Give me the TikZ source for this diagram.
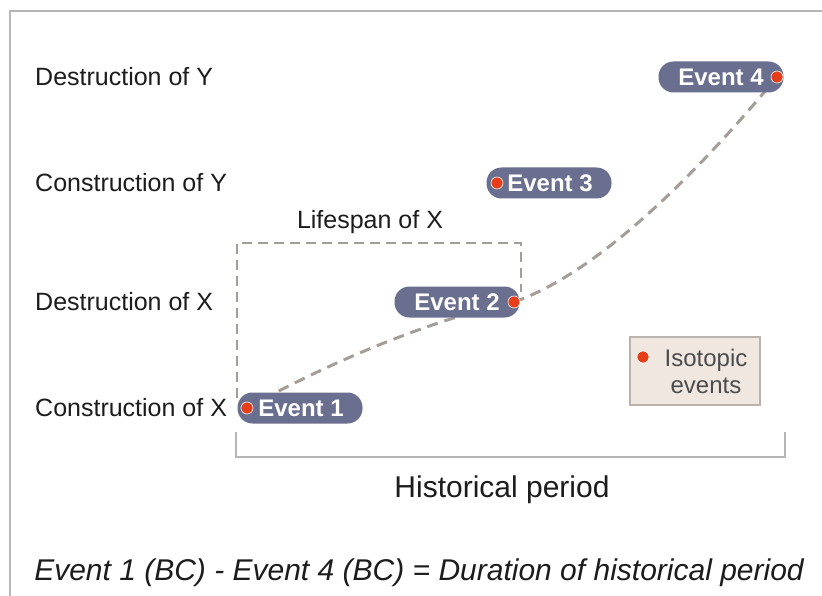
\documentclass[tikz,border=0pt]{standalone}
\usepackage{fontspec}
\setmainfont{Liberation Sans}
\usepackage{tikz}
\usetikzlibrary{shapes,positioning,calc}
\definecolor{pillcol}{RGB}{106,111,143}
\definecolor{dotcol}{RGB}{230,62,24}
\definecolor{dashcol}{RGB}{163,158,152}
\definecolor{legendfill}{RGB}{240,231,225}
\definecolor{legendline}{RGB}{186,178,172}
\definecolor{framecol}{RGB}{182,182,182}
\definecolor{textcol}{RGB}{28,28,28}
\tikzstyle{eventpill} = [rectangle, rounded corners=15pt, minimum width=125pt, minimum height=31pt, inner sep=0pt, fill=pillcol, text=white, font=\fontsize{24}{28}\selectfont\bfseries]
\tikzstyle{rowlabel} = [anchor=west, inner sep=0pt, text=textcol, font=\fontsize{25}{30}\selectfont]
\tikzstyle{isodot} = [circle, fill=dotcol, draw=white, line width=0.6pt, minimum size=12pt, inner sep=0pt]
\tikzstyle{timeline} = [dashcol, line width=3pt, dash pattern=on 11pt off 7pt]

\begin{document}
\begin{tikzpicture}[x=1pt,y=-1pt]
						\useasboundingbox (0,0) rectangle (822,596);
						\draw[framecol, line width=2pt] (10,600) -- (10,11) -- (825,11);
						\node at (35,77) [rowlabel] (dY) {Destruction of Y};
						\node at (35,183) [rowlabel] (cY) {Construction of Y};
						\node at (35,302) [rowlabel] (dX) {Destruction of X};
						\node at (35,408) [rowlabel] (cX) {Construction of X};
						\draw[timeline, dash pattern=on 10pt off 6pt, line width=2.5pt] (237,398) -- (237,243) -- (521,243) -- (521,292);
						\node at (370,222) [text=textcol, font=\fontsize{25}{30}\selectfont] (life) {Lifespan of X};
						\coordinate (d1) at (247,408);
						\coordinate (d2) at (514,302);
						\coordinate (d3) at (497,183);
						\coordinate (d4) at (777,77);
						\draw[timeline] (d1) .. controls (330,362) and (430,320) .. (d2) .. controls (600,272) and (700,170) .. (d4);
						\node at (300,408) [eventpill] (e1) {\hspace{2pt}Event 1};
						\node at (457,302) [eventpill] (e2) {Event 2\hspace{3pt}};
						\node at (549,183) [eventpill] (e3) {\hspace{2pt}Event 3};
						\node at (721,77) [eventpill] (e4) {Event 4\hspace{3pt}};
						\node at (d1) [isodot] (p1) {};
						\node at (d2) [isodot] (p2) {};
						\node at (d3) [isodot] (p3) {};
						\node at (d4) [isodot] (p4) {};
						\draw[framecol, line width=1.3pt] (236,432) -- (236,457) -- (785,457) -- (785,432);
						\node at (502,490) [text=textcol, font=\fontsize{30}{34}\selectfont] (period) {Historical period};
						\node at (695,371) [rectangle, minimum width=130pt, minimum height=68pt, fill=legendfill, draw=legendline, line width=1.5pt] (legend) {};
						\node at (643,357) [isodot] (ldot) {};
						\node at (706,371) [align=center, text=black!70, font=\fontsize{24}{27}\selectfont] (ltext) {Isotopic\\events};
						\node at (419,573) [text=textcol, font=\fontsize{30}{34}\selectfont\itshape] (formula) {Event 1 (BC) - Event 4 (BC) = Duration of historical period};
					\end{tikzpicture}
\end{document}
